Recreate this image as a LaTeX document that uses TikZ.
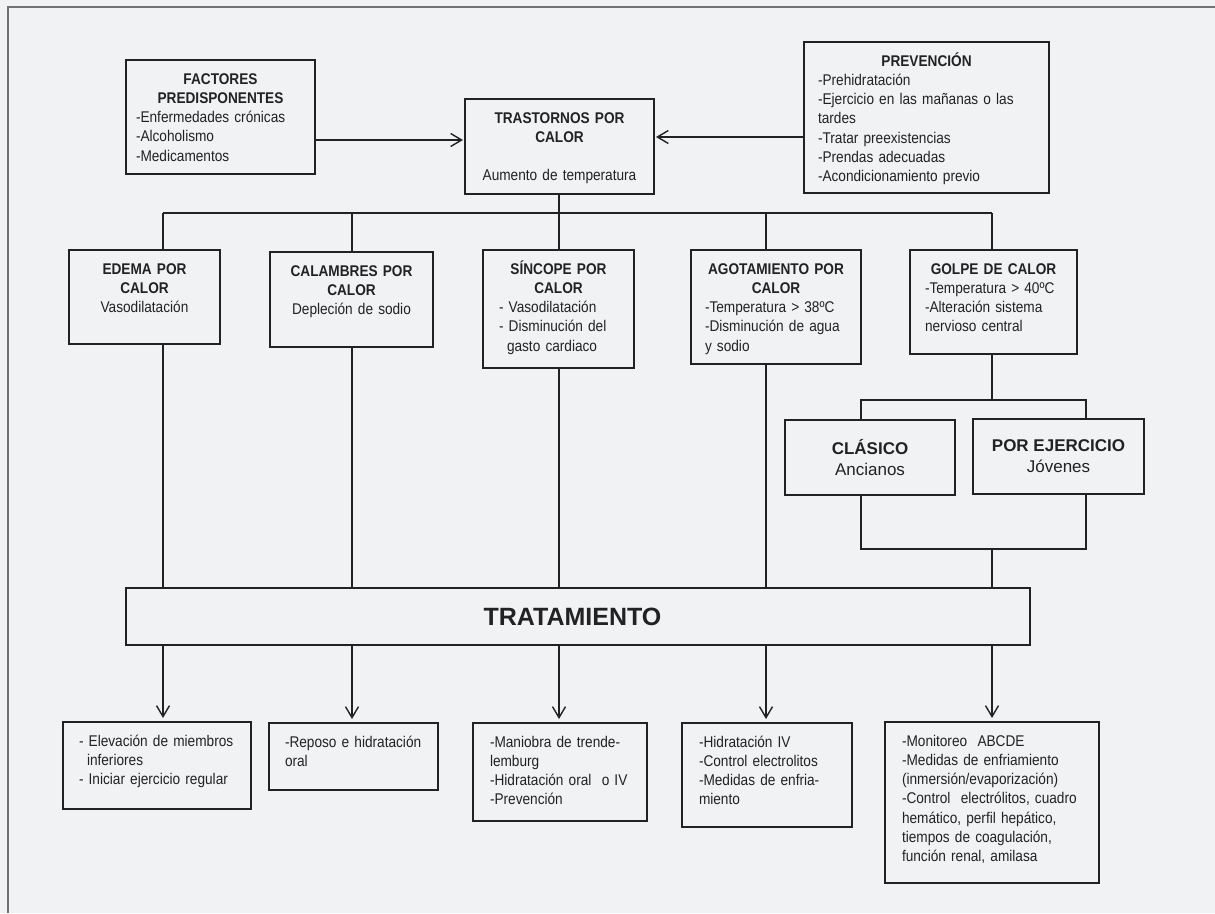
\documentclass[tikz,border=0pt]{standalone}
\usepackage{fontspec}
\setmainfont{Liberation Sans}[FakeStretch=0.88]
\newfontfamily\widefont{Liberation Sans}
\usetikzlibrary{arrows.meta}
\definecolor{bgpage}{HTML}{F1F2F4}
\definecolor{ink}{HTML}{222222}
\definecolor{framegray}{HTML}{727272}
\newcommand\hd[1]{\leavevmode\hskip0pt plus1filll\textbf{#1}\hskip0pt plus1filll\null}

\begin{document}
\begin{tikzpicture}[x=1pt,y=-1pt,
  every node/.style={text=ink},
  tbox/.style={draw=ink, line width=1.6pt, anchor=north west, outer sep=0pt,
    inner ysep=0pt, inner xsep=16pt, text height=24pt, align=left,
    font=\fontsize{15.5}{19.3}\selectfont},
  cbox/.style={draw=ink, line width=1.6pt, anchor=north west, outer sep=0pt,
    inner sep=0pt, align=center, font=\widefont\fontsize{17}{21}\selectfont},
  conn/.style={draw=ink, line width=1.4pt},
  arr/.style={conn, -{Straight Barb[length=11pt,width=13pt]}, shorten >=4pt}]
  \useasboundingbox (0,0) rectangle (1215,913);
  \fill[bgpage] (0,0) rectangle (1215,913);
  \draw[framegray, line width=2pt] (7.5,913) -- (7.5,6.5) -- (1215,6.5);

  \node[tbox, inner xsep=10pt, text width=169pt, text depth=90pt] (factores) at (126,60)
    {\hd{FACTORES}\\\hd{PREDISPONENTES}\\-Enfermedades crónicas\\-Alcoholismo\\-Medicamentos};
  \node[tbox, inner xsep=8pt, text width=173pt, text depth=71pt, align=center] (trastornos) at (465,99)
    {\textbf{TRASTORNOS POR}\\\textbf{CALOR}\\[19.3pt]Aumento de temperatura};
  \node[tbox, inner xsep=14pt, text width=217pt, text depth=127pt] (prevencion) at (804,42)
    {\hd{PREVENCIÓN}\\-Prehidratación\\-Ejercicio en las mañanas o las\\tardes\\-Tratar preexistencias\\-Prendas adecuadas\\-Acondicionamiento previo};

  \node[tbox, text width=119pt, text depth=70pt, align=center] (edema) at (69,250)
    {\textbf{EDEMA POR}\\\textbf{CALOR}\\Vasodilatación};
  \node[tbox, text width=131pt, text depth=71pt, align=center] (calambres) at (270,252)
    {\textbf{CALAMBRES POR}\\\textbf{CALOR}\\Depleción de sodio};
  \node[tbox, text width=119pt, text depth=94pt] (sincope) at (483,250)
    {\hd{SÍNCOPE POR}\\\hd{CALOR}\\- Vasodilatación\\- Disminución del\\\hspace*{8pt}gasto cardiaco};
  \node[tbox, inner xsep=14pt, text width=142pt, text depth=90pt] (agotamiento) at (691,250)
    {\hd{AGOTAMIENTO POR}\\\hd{CALOR}\\-Temperatura > 38ºC\\-Disminución de agua\\y sodio};
  \node[tbox, inner xsep=15pt, text width=137pt, text depth=80pt] (golpe) at (910,250)
    {\hd{GOLPE DE CALOR}\\-Temperatura > 40ºC\\-Alteración sistema\\nervioso central};

  \node[cbox, minimum width=170pt, minimum height=75pt] (clasico) at (785,420)
    {\textbf{CLÁSICO}\\Ancianos};
  \node[cbox, minimum width=171pt, minimum height=75pt] (ejercicio) at (973,419)
    {\textbf{POR EJERCICIO}\\Jóvenes};

  \node[cbox, minimum width=904pt, minimum height=57pt,
    font=\widefont\bfseries\fontsize{25}{30}\selectfont] (tratamiento) at (126,588)
    {TRATAMIENTO\hspace*{11pt}};

  \node[tbox, text width=156pt, text depth=63pt] (elevacion) at (63,722)
    {- Elevación de miembros\\\hspace*{8pt}inferiores\\- Iniciar ejercicio regular};
  \node[tbox, text width=137pt, text depth=43pt] (reposo) at (269,723)
    {-Reposo e hidratación\\oral};
  \node[tbox, inner xsep=17pt, text width=140pt, text depth=74pt] (maniobra) at (473,723)
    {-Maniobra de trende-\\lemburg\\-Hidratación oral\ \ o IV\\-Prevención};
  \node[tbox, inner xsep=17pt, text width=136pt, text depth=80pt] (hidratacion) at (682,723)
    {-Hidratación IV\\-Control electrolitos\\-Medidas de enfria-\\miento};
  \node[tbox, inner xsep=17pt, text width=180pt, text depth=137pt] (monitoreo) at (885,722)
    {-Monitoreo\ \ ABCDE\\-Medidas de enfriamiento\\(inmersión/evaporización)\\-Control\ \ electrólitos, cuadro\\hemático, perfil hepático,\\tiempos de coagulación,\\función renal, amilasa};

  \foreach \x [count=\k] in {163,352,559,766,992}
    \coordinate (col\k) at (\x,0);
  \coordinate (colA) at (861,0);
  \coordinate (colB) at (1086,0);
  \coordinate (bus) at (0,213);
  \coordinate (split) at (0,400);
  \coordinate (join) at (0,549);
  \coordinate (lefty) at (0,140);
  \coordinate (righty) at (0,137);

  \draw[arr, shorten >=2pt] (factores.east |- lefty) -- (trastornos.west |- lefty);
  \draw[arr, shorten >=2pt] (prevencion.west |- righty) -- (trastornos.east |- righty);
  \draw[conn] (col3 |- trastornos.south) -- (col3 |- bus);
  \draw[conn] (col1 |- bus) -- (col5 |- bus);
  \foreach \n [count=\k] in {edema,calambres,sincope,agotamiento,golpe}
    \draw[conn] (col\k |- bus) -- (col\k |- \n.north);
  \foreach \n [count=\k] in {edema,calambres,sincope,agotamiento}
    \draw[conn] (col\k |- \n.south) -- (col\k |- tratamiento.north);
  \draw[conn] (col5 |- golpe.south) -- (col5 |- split);
  \draw[conn] (colA |- clasico.north) -- (colA |- split) -- (colB |- split) -- (colB |- ejercicio.north);
  \draw[conn] (colA |- clasico.south) -- (colA |- join) -- (colB |- join) -- (colB |- ejercicio.south);
  \draw[conn] (col5 |- join) -- (col5 |- tratamiento.north);
  \foreach \n [count=\k] in {elevacion,reposo,maniobra,hidratacion,monitoreo}
    \draw[arr] (col\k |- tratamiento.south) -- (col\k |- \n.north);
\end{tikzpicture}
\end{document}
